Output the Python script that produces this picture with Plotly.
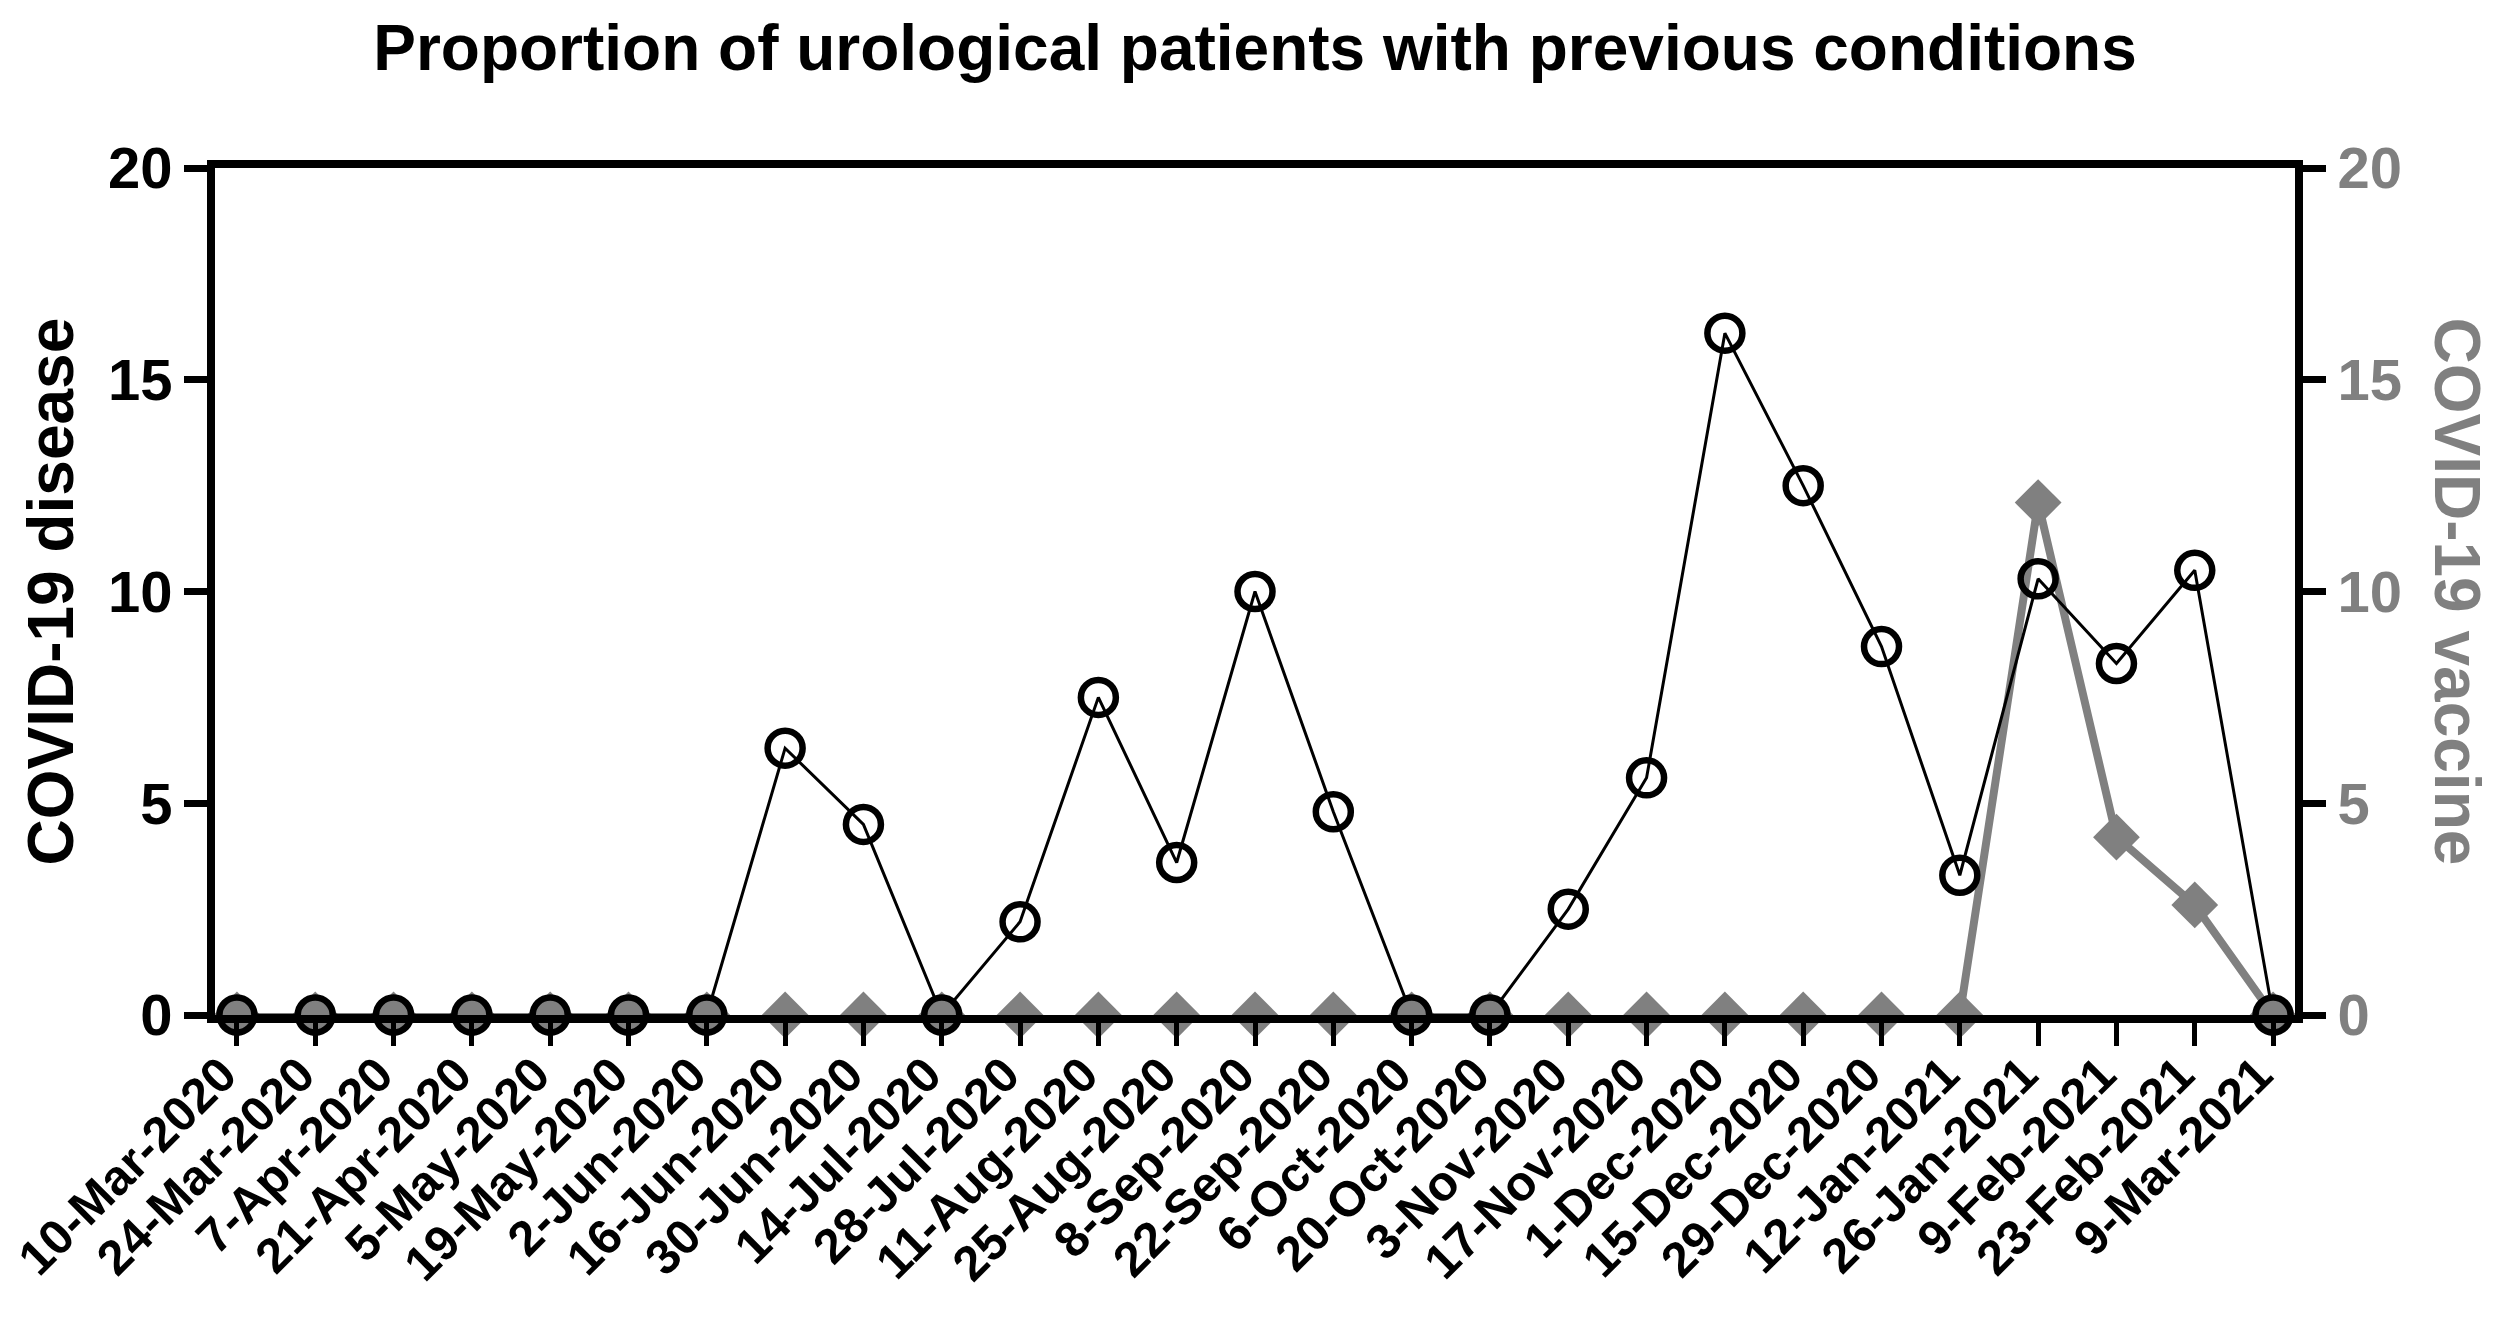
import plotly.graph_objects as go

dates = ['10-Mar-2020', '24-Mar-2020', '7-Apr-2020', '21-Apr-2020', '5-May-2020',
         '19-May-2020', '2-Jun-2020', '16-Jun-2020', '30-Jun-2020', '14-Jul-2020',
         '28-Jul-2020', '11-Aug-2020', '25-Aug-2020', '8-Sep-2020', '22-Sep-2020',
         '6-Oct-2020', '20-Oct-2020', '3-Nov-2020', '17-Nov-2020', '1-Dec-2020',
         '15-Dec-2020', '29-Dec-2020', '12-Jan-2021', '26-Jan-2021', '9-Feb-2021',
         '23-Feb-2021', '9-Mar-2021']
disease = [0, 0, 0, 0, 0, 0, 0, 6.3, 4.5, 0, 2.2, 7.5, 3.6, 10.0, 4.8, 0, 0,
           2.5, 5.6, 16.1, 12.5, 8.7, 3.3, 10.3, 8.3, 10.5, 0]
vaccine = [0, 0, 0, 0, 0, 0, 0, 0, 0, 0, 0, 0, 0, 0, 0, 0, 0, 0, 0, 0, 0, 0, 0,
           12.1, 4.2, 2.6, 0]
y_ticks = [0, 5, 10, 15, 20]

GRAY = '#808080'
FONT = 'Liberation Sans, Arial, sans-serif'

# the part of the vaccine line lying on the zero baseline is hidden behind the
# (black) x axis in the original; keep only segments that leave the baseline
n = len(dates)
vac_line = []
for i, v in enumerate(vaccine):
    prev_v = vaccine[i - 1] if i > 0 else 0
    next_v = vaccine[i + 1] if i < n - 1 else 0
    vac_line.append(v if (v != 0 or prev_v != 0 or next_v != 0) else None)

fig = go.Figure()

fig.add_trace(go.Scatter(
    x=dates, y=vac_line, mode='lines', yaxis='y2',
    line=dict(color=GRAY, width=8), connectgaps=False,
    cliponaxis=False, showlegend=False, hoverinfo='skip'))

fig.add_trace(go.Scatter(
    x=dates, y=vaccine, mode='markers', yaxis='y2',
    marker=dict(symbol='diamond', size=36, color=GRAY, line=dict(width=0)),
    cliponaxis=False, showlegend=False))

fig.add_trace(go.Scatter(
    x=dates, y=disease, mode='lines+markers', yaxis='y2',
    line=dict(color='black', width=3),
    marker=dict(symbol='circle', size=35,
                color=[GRAY if v == 0 else 'rgba(0,0,0,0)' for v in disease],
                line=dict(color='black', width=6.5)),
    cliponaxis=False, showlegend=False))

# invisible trace keeps the left axis active
fig.add_trace(go.Scatter(
    x=dates, y=disease, mode='lines', yaxis='y', line=dict(width=0),
    showlegend=False, hoverinfo='skip', opacity=0))

fig.update_layout(
    width=2500, height=1317,
    margin=dict(l=207, r=213, t=160, b=310, autoexpand=False),
    paper_bgcolor='white', plot_bgcolor='white',
    font=dict(family=FONT, color='black'),
    title=dict(text='Proportion of urological patients with previous conditions',
               font=dict(family=FONT, size=64, weight='bold', color='black'),
               x=0.5, xref='paper', xanchor='center',
               y=1 - 40 / 1317, yref='container', yanchor='middle'),
    xaxis=dict(type='category', categoryorder='array', categoryarray=dates,
               range=[-0.28, n - 1 + 0.28],
               showline=True, linecolor='black', linewidth=8, mirror=True,
               ticks='outside', ticklen=23, tickwidth=5, tickcolor='black',
               tickangle=-45,
               tickfont=dict(family=FONT, size=49, weight='bold', color='black'),
               ticklabelstandoff=-20, ticklabelshift=-15,
               showgrid=False, zeroline=False, fixedrange=True),
    yaxis=dict(range=[0, 20], tickvals=y_ticks,
               showline=True, linecolor='black', linewidth=8,
               ticks='outside', ticklen=23, tickwidth=7, tickcolor='black',
               tickfont=dict(family=FONT, size=58, weight='bold', color='black'),
               showgrid=False, zeroline=False),
    yaxis2=dict(range=[0, 20], tickvals=y_ticks, overlaying='y', side='right',
                showline=True, linecolor='black', linewidth=8,
                ticks='outside', ticklen=23, tickwidth=7, tickcolor='black',
                tickfont=dict(family=FONT, size=58, weight='bold', color=GRAY),
                showgrid=False, zeroline=False),
    annotations=[
        dict(text='COVID-19 disease', xref='paper', yref='paper', x=0, y=0.5,
             xshift=42 - 207, xanchor='center', yanchor='middle', textangle=-90,
             showarrow=False,
             font=dict(family=FONT, size=64, weight='bold', color='black')),
        dict(text='COVID-19 vaccine', xref='paper', yref='paper', x=1, y=0.5,
             xshift=2449 - 2287, xanchor='center', yanchor='middle', textangle=90,
             showarrow=False,
             font=dict(family=FONT, size=64, weight='bold', color=GRAY)),
    ],
)

fig.write_html('out.html')
